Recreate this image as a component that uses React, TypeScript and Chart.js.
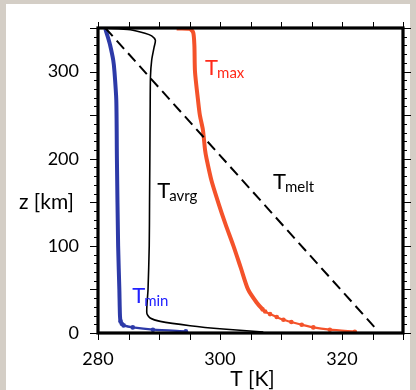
import React, { useEffect, useRef } from 'react';
import { Chart, registerables } from 'chart.js';

Chart.register(...registerables);

// ---- data (T in K, z in km) ----
const tminZ = [349, 340, 330, 313, 300, 267, 200, 100, 50, 20, 13.3, 10.5, 8.7, 6.4, 3.8, 1.9];
const tminT = [281.2, 281.6, 282.0, 282.5, 282.7, 283.0, 283.1, 283.3, 283.5, 283.6, 283.7, 283.9, 284.2, 285.7, 289.0, 294.4];

const tavrgZ = [350, 348, 344, 341, 336, 328, 313, 294, 255, 200, 150, 100, 50, 23, 17.2, 13.3, 8.4, 4.6, 1.1];
const tavrgT = [281.2, 285.3, 287.7, 288.8, 289.4, 289.2, 288.8, 288.6, 288.55, 288.5, 288.45, 288.4, 288.2, 288.0, 288.55, 290.2, 295.1, 300.5, 307.1];

const tmaxZ = [349.5, 349, 345, 330, 300, 267, 250, 233, 210, 200, 175, 150, 125, 100, 75, 50, 35, 27, 24.7, 21.7, 18.3, 15.2, 12.6, 9.5, 6.4, 3.8, 1.5];
const tmaxT = [292.9, 295.0, 295.6, 295.8, 295.9, 296.4, 296.7, 297.2, 297.55, 297.8, 298.6, 299.7, 300.9, 302.2, 303.4, 304.6, 306.0, 307.0, 307.4, 308.2, 309.3, 310.4, 311.7, 313.4, 315.3, 318.0, 322.1];

const tmeltZ = [350, 7];
const tmeltT = [281.2, 325.3];

const xTickLabels = [280, 300, 320];
const yTickLabels = [0, 100, 200, 300];

// series labels: main letter, subscript, anchor (T, z)
const labelText = ['T', 'T', 'T', 'T'];
const labelSub = ['max', 'avrg', 'melt', 'min'];
const labelT = [297.55, 289.7, 308.67, 285.6];
const labelZ = [295.5, 154.8, 165.1, 34.7];
const labelColors = ['#ff2a1a', '#000000', '#000000', '#2222ff'];

const toPts = (t: number[], z: number[]) => t.map((v, i) => ({ x: v, y: z[i] }));

const FONT = 'Lato, "Open Sans", sans-serif';

const framePlugin = {
  id: 'frame',
  beforeDraw(chart: any) {
    const { ctx, width, height } = chart;
    ctx.save();
    ctx.fillStyle = '#d4cec6';
    ctx.fillRect(0, 0, width, height);
    ctx.fillStyle = '#ffffff';
    ctx.fillRect(6, 4, width - 12, height - 4);
    ctx.restore();
  },
  afterDatasetsDraw(chart: any) {
    const { ctx, chartArea } = chart;
    const xs = chart.scales.x;
    const ys = chart.scales.y;
    const { left, right, top, bottom } = chartArea;
    ctx.save();
    ctx.strokeStyle = '#000';
    // ticks
    ctx.lineWidth = 1;
    ctx.beginPath();
    for (let v = 280; v <= 330; v += 5) {
      const px = Math.round(xs.getPixelForValue(v)) + 0.5;
      ctx.moveTo(px, top);
      ctx.lineTo(px, top - 6);
      ctx.moveTo(px, bottom);
      ctx.lineTo(px, bottom + 7);
    }
    for (let v = 0; v <= 350; v += 10) {
      const py = Math.round(ys.getPixelForValue(v)) + 0.5;
      const len = v % 50 === 0 ? 8 : 4;
      ctx.moveTo(left, py);
      ctx.lineTo(left - len, py);
      ctx.moveTo(right, py);
      ctx.lineTo(right + len, py);
    }
    ctx.stroke();
    // frame
    ctx.lineWidth = 3.2;
    ctx.strokeRect(left, top, right - left, bottom - top);

    // axis titles
    ctx.fillStyle = '#000';
    ctx.textBaseline = 'alphabetic';
    ctx.font = `21px ${FONT}`;
    ctx.textAlign = 'left';
    ctx.fillText('z [km]', 19, 209);
    ctx.textAlign = 'center';
    ctx.fillText('T [K]', (left + right) / 2 + 2, 386);

    // series labels
    ctx.textAlign = 'left';
    for (let i = 0; i < labelText.length; i++) {
      const px = xs.getPixelForValue(labelT[i]);
      const py = ys.getPixelForValue(labelZ[i]);
      ctx.fillStyle = labelColors[i];
      ctx.font = `22px ${FONT}`;
      ctx.fillText(labelText[i], px, py);
      const w = ctx.measureText(labelText[i]).width;
      ctx.font = `15px ${FONT}`;
      ctx.fillText(labelSub[i], px + w - 1, py + 3);
    }
    ctx.restore();
  },
};

export default function App() {
  const ref = useRef<HTMLCanvasElement>(null);
  useEffect(() => {
    if (!ref.current) return;
    const thin = (lim: number, thick: number, th: number) => (c: any) =>
      c.p0.parsed.y < lim ? th : thick;
    const chart = new Chart(ref.current, {
      type: 'scatter',
      data: {
        datasets: [
          {
            label: 'Tmelt',
            data: toPts(tmeltT, tmeltZ),
            showLine: true,
            borderColor: '#000',
            borderWidth: 2,
            borderDash: [11, 6],
            pointRadius: 0,
            order: 0,
          },
          {
            label: 'Tavrg',
            data: toPts(tavrgT, tavrgZ),
            showLine: true,
            borderColor: '#000',
            borderWidth: 1.6,
            pointRadius: 0,
            tension: 0.25,
            order: 1,
          },
          {
            label: 'Tmax',
            data: toPts(tmaxT, tmaxZ),
            showLine: true,
            borderColor: '#f4522a',
            backgroundColor: '#f4522a',
            borderWidth: 4,
            segment: { borderWidth: thin(28, 4, 2.2) },
            pointRadius: (c: any) => (c.raw && c.raw.y < 28 ? 2.3 : 0),
            pointBorderWidth: 0,
            tension: 0.25,
            order: 2,
          },
          {
            label: 'Tmin',
            data: toPts(tminT, tminZ),
            showLine: true,
            borderColor: '#2d3aa8',
            backgroundColor: '#2d3aa8',
            borderWidth: 4,
            segment: { borderWidth: thin(14, 4, 2.2) },
            pointRadius: (c: any) => (c.raw && c.raw.y < 14 ? 2.3 : 0),
            pointBorderWidth: 0,
            tension: 0.25,
            order: 3,
          },
        ],
      },
      options: {
        animation: false,
        responsive: false,
        layout: { padding: { top: 28, right: 13, left: 0, bottom: 0 } },
        plugins: { legend: { display: false }, tooltip: { enabled: false } },
        scales: {
          x: {
            type: 'linear',
            min: 280,
            max: 330,
            grid: { display: false },
            border: { display: false },
            ticks: { font: { size: 18, family: FONT }, color: '#000', padding: 7, maxRotation: 0 },
            afterBuildTicks: (s: any) => {
              s.ticks = xTickLabels.map((v) => ({ value: v }));
            },
            afterFit: (s: any) => {
              s.height = 57;
            },
          },
          y: {
            type: 'linear',
            min: 0,
            max: 350,
            grid: { display: false },
            border: { display: false },
            ticks: { font: { size: 18, family: FONT }, color: '#000', padding: 11 },
            afterBuildTicks: (s: any) => {
              s.ticks = yTickLabels.map((v) => ({ value: v }));
            },
            afterFit: (s: any) => {
              s.width = 98;
            },
          },
        },
      },
      plugins: [framePlugin],
    } as any);
    return () => chart.destroy();
  }, []);
  return (
    <div style={{ position: 'fixed', left: 0, top: 0, width: 416, height: 390 }}>
      <canvas ref={ref} width={416} height={390} style={{ display: 'block' }} />
    </div>
  );
}
